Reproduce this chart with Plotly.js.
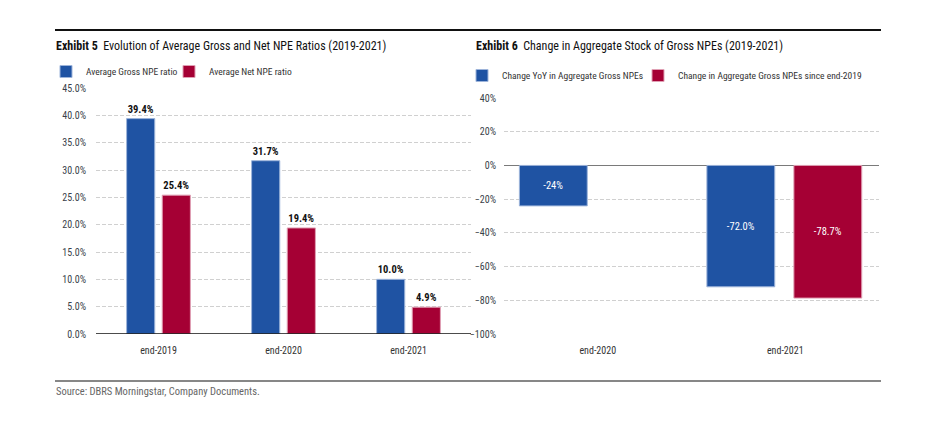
<!DOCTYPE html>
<html>
<head>
<meta charset="utf-8">
<script src="https://cdn.plot.ly/plotly-3.0.1.min.js"></script>
<style>html,body{margin:0;padding:0;background:#fff;}#chart{width:931px;height:446px;}</style>
</head>
<body>
<div id="chart"></div>
<script>
// Exhibit 5 data
const categories5 = ["end-2019", "end-2020", "end-2021"];
const grossNPE = [39.4, 31.7, 10.0];
const netNPE = [25.4, 19.4, 4.9];
// Exhibit 6 data
const categories6 = ["end-2020", "end-2021"];
const yoyChange = [-24, -72.0];
const yoyLabels = ["-24%", "-72.0%"];
const sinceEnd2019 = [null, -78.7];
const sinceLabels = ["", "-78.7%"];

const W = 931, H = 446;
const fx = p => p / W;
const fy = p => 1 - p / H;
const FONT = "Roboto Condensed, Roboto, sans-serif";
const BLUE = "#1f53a3";
const RED = "#a50034";
const TICK = "#3a3f4a";

const outsideFont = {family: FONT, size: 10.5, color: "#111", weight: "bold"};
const insideFont = {family: FONT, size: 10.5, color: "#fff"};

const traces = [
  {type: "bar", x: categories5, y: grossNPE, name: "Average Gross NPE ratio",
   xaxis: "x", yaxis: "y", legend: "legend",
   marker: {color: BLUE, line: {color: "#9db4da", width: 1}},
   texttemplate: "%{y:.1f}%", textposition: "outside", cliponaxis: false,
   textangle: 0, constraintext: "none", textfont: outsideFont},
  {type: "bar", x: categories5, y: netNPE, name: "Average Net NPE ratio",
   xaxis: "x", yaxis: "y", legend: "legend2",
   marker: {color: RED, line: {color: "#e0a0b4", width: 1}},
   texttemplate: "%{y:.1f}%", textposition: "outside", cliponaxis: false,
   textangle: 0, constraintext: "none", textfont: outsideFont},
  {type: "bar", x: categories6, y: yoyChange, name: "Change YoY in Aggregate Gross NPEs",
   xaxis: "x2", yaxis: "y2", legend: "legend3", width: 0.362, offset: -0.418,
   marker: {color: BLUE, line: {color: "#9db4da", width: 1}},
   text: yoyLabels, texttemplate: "%{text}", textposition: "inside", insidetextanchor: "middle",
   textangle: 0, constraintext: "none", textfont: insideFont},
  {type: "bar", x: categories6, y: sinceEnd2019, name: "Change in Aggregate Gross NPEs since end-2019",
   xaxis: "x2", yaxis: "y2", legend: "legend4", width: 0.362, offset: 0.046,
   marker: {color: RED, line: {color: "#e0a0b4", width: 1}},
   text: sinceLabels, texttemplate: "%{text}", textposition: "inside", insidetextanchor: "middle",
   textangle: 0, constraintext: "none", textfont: insideFont}
];

const gridAxis = {
  showgrid: true, gridcolor: "#d0d0d0", griddash: "4px,2px", gridwidth: 1,
  tickfont: {family: FONT, size: 10, color: TICK}, ticks: "", zeroline: false,
  showline: false, fixedrange: true, automargin: false
};
const catAxis = {
  showgrid: false, ticks: "", showline: false, fixedrange: true, automargin: false,
  ticklabelstandoff: 9,
  tickfont: {family: FONT, size: 10, color: "#333"}
};
function legendAt(px, py) {
  return {orientation: "h", x: fx(px), y: fy(py), xanchor: "left", yanchor: "top",
    font: {family: FONT, size: 9.5, color: "#333"}, itemwidth: 30,
    bgcolor: "rgba(0,0,0,0)"};
}

const layout = {
  width: W, height: H,
  margin: {l: 0, r: 0, t: 0, b: 0, autoexpand: false},
  paper_bgcolor: "#fff", plot_bgcolor: "rgba(0,0,0,0)",
  font: {family: FONT, color: "#222"},
  barmode: "group", bargap: 0.43, bargroupgap: 0.21,
  showlegend: true,
  xaxis: Object.assign({}, catAxis, {domain: [fx(96), fx(471)], anchor: "y"}),
  yaxis: Object.assign({}, gridAxis, {domain: [fy(334), fy(88)], anchor: "x",
    range: [0, 45], dtick: 5, tickformat: ".1f", ticksuffix: "%", ticklabelstandoff: 9}),
  xaxis2: Object.assign({}, catAxis, {domain: [fx(504), fx(879)], anchor: "y2"}),
  yaxis2: Object.assign({}, gridAxis, {domain: [fy(334), fy(98)], anchor: "x2",
    range: [-100, 40], dtick: 20, ticksuffix: "%", ticklabelstandoff: 7,
    zeroline: true, zerolinecolor: "#7a7a7a", zerolinewidth: 1.5}),
  legend: legendAt(46, 57),
  legend2: legendAt(169, 57),
  legend3: legendAt(462, 61),
  legend4: legendAt(638, 61),
  shapes: [
    {type: "line", xref: "paper", yref: "paper", x0: fx(55), x1: fx(881), y0: fy(30), y1: fy(30),
     line: {color: "#111", width: 2}},
    {type: "line", xref: "paper", yref: "paper", x0: fx(55), x1: fx(881), y0: fy(381), y1: fy(381),
     line: {color: "#111", width: 1.2}},
    {type: "line", xref: "x domain", yref: "y", x0: 0, x1: 1, y0: 0, y1: 0,
     line: {color: "#111", width: 1.5}}
  ],
  annotations: [
    {xref: "paper", yref: "paper", x: fx(54), y: fy(46), xanchor: "left", yanchor: "middle", showarrow: false,
     text: "<b>Exhibit 5</b>  Evolution of Average Gross and Net NPE Ratios (2019-2021)",
     font: {family: FONT, size: 12, color: "#111"}},
    {xref: "paper", yref: "paper", x: fx(474), y: fy(46), xanchor: "left", yanchor: "middle", showarrow: false,
     text: "<b>Exhibit 6</b>  Change in Aggregate Stock of Gross NPEs (2019-2021)",
     font: {family: FONT, size: 12, color: "#111"}},
    {xref: "paper", yref: "paper", x: fx(54), y: fy(391), xanchor: "left", yanchor: "middle", showarrow: false,
     text: "Source: DBRS Morningstar, Company Documents.",
     font: {family: FONT, size: 10.5, color: "#666"}}
  ]
};

Plotly.newPlot("chart", traces, layout, {displayModeBar: false, staticPlot: true});
</script>
</body>
</html>
